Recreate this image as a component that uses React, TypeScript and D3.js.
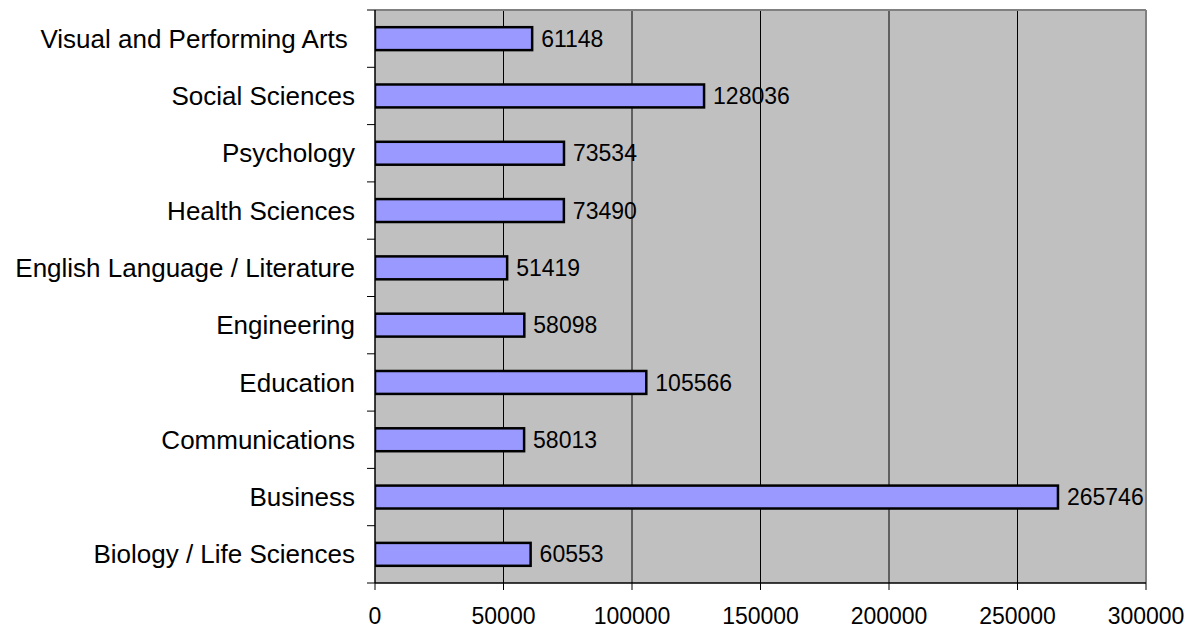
import React from "react";
import * as d3 from "d3";

const categories = [
  "Biology / Life Sciences",
  "Business",
  "Communications",
  "Education",
  "Engineering",
  "English Language / Literature",
  "Health Sciences",
  "Psychology",
  "Social Sciences",
  "Visual and Performing Arts ",
];
const values = [60553, 265746, 58013, 105566, 58098, 51419, 73490, 73534, 128036, 61148];
const xTicks = [0, 50000, 100000, 150000, 200000, 250000, 300000];

const W = 1193;
const H = 628;
const left = 375;
const right = 1146;
const top = 10;
const bottom = 583;
const FONT = "Arial, 'Liberation Sans', sans-serif";

export default function App() {
  const x = d3.scaleLinear().domain([0, 300000]).range([left, right]);
  const y = d3
    .scaleBand<string>()
    .domain([...categories].reverse())
    .range([top, bottom])
    .padding(0);
  const bw = y.bandwidth();
  const barH = bw * 0.4;

  return (
    <svg
      width={W}
      height={H}
      style={{ position: "absolute", left: 0, top: 0, background: "#fff" }}
    >
      <defs>
        <clipPath id="plotclip">
          <rect x={left} y={top} width={right - left} height={bottom - top} />
        </clipPath>
      </defs>
      <rect x={left} y={top} width={right - left} height={bottom - top} fill="#C0C0C0" />
      {xTicks.slice(1, -1).map((t) => (
        <line key={t} x1={x(t)} x2={x(t)} y1={top} y2={bottom} stroke="#000" strokeWidth={1} />
      ))}
      {/* top and right border */}
      <line x1={left} x2={right} y1={top} y2={top} stroke="#808080" strokeWidth={2} />
      <line x1={right} x2={right} y1={top} y2={bottom} stroke="#808080" strokeWidth={2} />
      <g clipPath="url(#plotclip)">
        {categories.map((c, i) => {
          const yc = (y(c) as number) + bw / 2;
          return (
            <g key={c}>
              <rect
                x={x(0)}
                y={yc - barH / 2}
                width={x(values[i]) - x(0)}
                height={barH}
                fill="#9999FF"
                stroke="#000"
                strokeWidth={2.5}
              />
              <text
                x={x(values[i]) + 9}
                y={yc}
                dy="0.35em"
                fontFamily={FONT}
                fontSize={23}
                fill="#000"
              >
                {values[i]}
              </text>
            </g>
          );
        })}
      </g>
      {/* axes */}
      <line x1={left} x2={left} y1={top} y2={bottom} stroke="#000" strokeWidth={1.5} />
      <line x1={left} x2={right} y1={bottom} y2={bottom} stroke="#000" strokeWidth={1.5} />
      {d3.range(categories.length + 1).map((k) => {
        const yy = top + k * bw;
        return <line key={k} x1={left - 8} x2={left} y1={yy} y2={yy} stroke="#000" strokeWidth={1} />;
      })}
      {categories.map((c) => (
        <text
          key={c}
          x={355}
          y={(y(c) as number) + bw / 2}
          dy="0.35em"
          textAnchor="end"
          fontFamily={FONT}
          fontSize={26}
          fill="#000"
          style={{ whiteSpace: "pre" }}
        >
          {c}
        </text>
      ))}
      {xTicks.map((t) => (
        <g key={t}>
          <line x1={x(t)} x2={x(t)} y1={bottom} y2={bottom + 7} stroke="#000" strokeWidth={1} />
          <text
            x={x(t)}
            y={624}
            textAnchor="middle"
            fontFamily={FONT}
            fontSize={23}
            fill="#000"
          >
            {t}
          </text>
        </g>
      ))}
    </svg>
  );
}
